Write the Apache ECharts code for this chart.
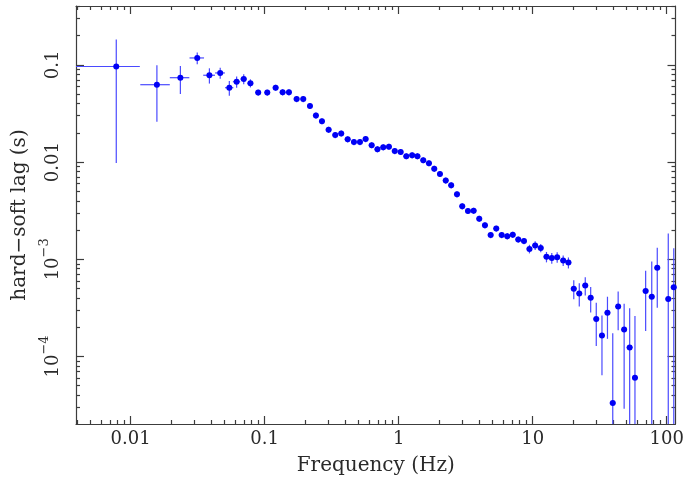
<!DOCTYPE html>
<html><head><meta charset="utf-8">
<script src="https://cdn.jsdelivr.net/npm/echarts@6.0.0/dist/echarts.min.js"></script>
<style>html,body{margin:0;padding:0;background:#fff}#c{width:683px;height:478px}</style>
</head><body><div id="c"></div>
<script>
// ---- data ----
const freq = [0.00781, 0.0157, 0.0235, 0.0314, 0.0387, 0.0466, 0.0545, 0.0618, 0.0698, 0.0783,
  0.0895, 0.1046, 0.1208, 0.1362, 0.1518, 0.1733, 0.1941, 0.2178, 0.2413, 0.2677,
  0.3003, 0.3363, 0.3728, 0.4165, 0.4638, 0.5143, 0.5671, 0.6289, 0.6945, 0.7672,
  0.8463, 0.9353, 1.035, 1.140, 1.261, 1.381, 1.526, 1.683, 1.844, 2.033,
  2.246, 2.465, 2.724, 2.982, 3.290, 3.628, 3.994, 4.406, 4.860, 5.350,
  5.872, 6.464, 7.104, 7.808, 8.613, 9.465, 10.44, 11.49, 12.68, 13.89,
  15.24, 16.90, 18.49, 20.27, 22.28, 24.69, 27.10, 29.83, 32.90, 36.16,
  39.60, 43.46, 48.16, 52.95, 58.00, 69.69, 77.40, 85.09, 102.8, 113.0];
const freqErr = [0.0039, 0.0039, 0.0039, 0.0039, 0.0039, 0.0039, 0.0039, 0.0039, 0.0039, 0.0039,
  0.0045, 0.0052, 0.006, 0.0068, 0.0076, 0.0087, 0.0097, 0.0109, 0.0121, 0.0134,
  0.015, 0.0168, 0.0186, 0.0208, 0.0232, 0.0257, 0.0284, 0.0314, 0.0347, 0.0384,
  0.0423, 0.0468, 0.0518, 0.057, 0.063, 0.069, 0.076, 0.084, 0.092, 0.102,
  0.112, 0.123, 0.136, 0.149, 0.165, 0.181, 0.2, 0.22, 0.243, 0.268,
  0.294, 0.323, 0.355, 0.39, 0.43, 0.473, 0.522, 0.575, 0.634, 0.695,
  0.762, 0.845, 0.925, 1.01, 1.11, 1.23, 1.36, 1.49, 1.65, 1.81,
  1.98, 2.17, 2.41, 2.65, 2.9, 3.48, 3.87, 4.25, 5.14, 5.65];
const lag = [0.0964, 0.0626, 0.0739, 0.118, 0.0783, 0.0827, 0.0583, 0.0672, 0.0716, 0.0649,
  0.0520, 0.0520, 0.0583, 0.0523, 0.0523, 0.0446, 0.0446, 0.0378, 0.0302, 0.0264,
  0.0215, 0.0190, 0.0197, 0.0172, 0.0161, 0.0161, 0.0173, 0.01495, 0.0136, 0.01423,
  0.01443, 0.01302, 0.01273, 0.01152, 0.01177, 0.01152, 0.01048, 0.00975, 0.00854, 0.00755,
  0.00647, 0.00578, 0.00467, 0.00352, 0.00315, 0.00316, 0.00261, 0.00224, 0.00178, 0.00207,
  0.00178, 0.00173, 0.00179, 0.00160, 0.00154, 0.00128, 0.00139, 0.00131, 0.00106, 0.00103,
  0.00105, 0.000972, 0.000925, 0.000499, 0.000446, 0.000539, 0.000401, 0.000243, 0.000164, 0.000282,
  3.32e-5, 0.000326, 0.000189, 0.000124, 6.05e-5, 0.000473, 0.000411, 0.000817, 0.000391, 0.000517];
const lagErr = [0.0866, 0.0365, 0.0237, 0.0166, 0.014, 0.0107, 0.0102, 0.0088, 0.0084, 0.0062,
  0.0037, 0.0037, 0.0042, 0.0038, 0.0038, 0.0032, 0.0032, 0.0027, 0.0022, 0.0019,
  0.0016, 0.0014, 0.0014, 0.0013, 0.0012, 0.0012, 0.0013, 0.0011, 0.001, 0.00103,
  0.00104, 0.00094, 0.00092, 0.00083, 0.00085, 0.00083, 0.00075, 0.0007, 0.00062, 0.00054,
  0.00047, 0.00042, 0.00034, 0.00026, 0.00023, 0.00023, 0.00019, 0.00016, 0.00013, 0.00015,
  0.00013, 0.00013, 0.00013, 0.00012, 0.00011, 0.00013, 0.00014, 0.00013, 0.00013, 0.00013,
  0.00013, 0.00012, 0.00012, 0.00011, 0.00012, 0.000115, 0.000118, 0.000115, 0.0001, 0.00013,
  0.00014, 0.00014, 0.00016, 0.00019, 0.0002, 0.00029, 0.00054, 0.0005, 0.00145, 0.00078];

const xTicks = [0.01, 0.1, 1, 10, 100];
const xTickLabels = ['0.01', '0.1', '1', '10', '100'];
const yTicks = [1e-4, 1e-3, 0.01, 0.1];
const yTickLabels = ['{b|10}{sup|\u22124}', '{b|10}{sup|\u22123}', '{b|0.01}', '{b|0.1}'];
const xRange = [0.00391, 116.4];
const yRange = [2.02e-5, 0.404];
const xName = 'Frequency (Hz)';
const yName = 'hard\u2212soft lag (s)';

// ---- styling ----
const axisColor = '#3c3c3c';
const textColor = '#2a2a2a';
const fontFam = 'DejaVu Serif';
const dotColor = '#0000f5';
const barColor = '#4a4aff';

function minorTicks(range) {
  const out = [];
  const d0 = Math.floor(Math.log10(range[0])), d1 = Math.ceil(Math.log10(range[1]));
  for (let d = d0; d <= d1; d++) {
    for (let m = 2; m <= 9; m++) {
      const v = m * Math.pow(10, d);
      if (v > range[0] && v < range[1]) out.push(v);
    }
  }
  return out;
}
function lookup(ticks, labels, v) {
  for (let i = 0; i < ticks.length; i++) {
    if (Math.abs(Math.log10(ticks[i]) - Math.log10(v)) < 1e-6) return labels[i];
  }
  return '';
}

function makeAxis(dim, pos, tickVals, tickLen, withLine, withLabel) {
  const isX = dim === 'x';
  const range = isX ? xRange : yRange;
  const ax = {
    type: 'log', logBase: 10, position: pos, min: range[0], max: range[1], gridIndex: 0,
    axisLine: {show: withLine, onZero: false, lineStyle: {color: axisColor, width: 1.2}},
    axisTick: {show: true, inside: true, length: tickLen, customValues: tickVals,
      lineStyle: {color: axisColor, width: 1.2}},
    minorTick: {show: false},
    splitLine: {show: false},
    axisLabel: {show: false}
  };
  if (withLabel) {
    if (isX) {
      ax.axisLabel = {show: true, customValues: xTicks, margin: 6,
        formatter: v => lookup(xTicks, xTickLabels, v),
        fontFamily: fontFam, fontSize: 18, color: textColor};
      ax.name = xName;
      ax.nameLocation = 'middle';
      ax.nameGap = 32;
      ax.nameTextStyle = {fontFamily: fontFam, fontSize: 20, color: textColor};
    } else {
      ax.axisLabel = {show: true, customValues: yTicks, margin: 14, rotate: 90,
        formatter: v => lookup(yTicks, yTickLabels, v),
        fontFamily: fontFam, fontSize: 18, color: textColor,
        rich: {
          b: {fontFamily: fontFam, fontSize: 18, color: textColor, verticalAlign: 'bottom', lineHeight: 24},
          sup: {fontFamily: fontFam, fontSize: 13, color: textColor, verticalAlign: 'top', lineHeight: 24}
        }};
      ax.name = yName;
      ax.nameLocation = 'middle';
      ax.nameGap = 46;
      ax.nameTextStyle = {fontFamily: fontFam, fontSize: 20, color: textColor};
    }
  }
  return ax;
}

const xMinor = minorTicks(xRange), yMinor = minorTicks(yRange);

const points = freq.map((f, i) => [f, lag[i]]);
const bars = freq.map((f, i) => [
  f, lag[i],
  Math.max(f - freqErr[i], xRange[0]), Math.min(f + freqErr[i], xRange[1]),
  Math.max(lag[i] - lagErr[i], yRange[0]), Math.min(lag[i] + lagErr[i], yRange[1])
]);

const chart = echarts.init(document.getElementById('c'), null, {renderer: 'canvas'});
chart.setOption({
  animation: false,
  backgroundColor: '#ffffff',
  grid: {left: 76, right: 7.5, top: 6, bottom: 54, outerBoundsMode: 'none', containLabel: false},
  xAxis: [
    makeAxis('x', 'bottom', xTicks, 8, true, true),
    makeAxis('x', 'bottom', xMinor, 4, false, false),
    makeAxis('x', 'top', xTicks, 8, true, false),
    makeAxis('x', 'top', xMinor, 4, false, false)
  ],
  yAxis: [
    makeAxis('y', 'left', yTicks, 8, true, true),
    makeAxis('y', 'left', yMinor, 4, false, false),
    makeAxis('y', 'right', yTicks, 8, true, false),
    makeAxis('y', 'right', yMinor, 4, false, false)
  ],
  series: [
    {
      type: 'custom', xAxisIndex: 0, yAxisIndex: 0, clip: true,
      data: bars,
      encode: {x: 0, y: 1},
      renderItem: (params, api) => {
        const f = api.value(0), v = api.value(1);
        const pL = api.coord([api.value(2), v]), pR = api.coord([api.value(3), v]);
        const pB = api.coord([f, api.value(4)]), pT = api.coord([f, api.value(5)]);
        const style = {stroke: barColor, lineWidth: 1.2, fill: null};
        return {type: 'group', children: [
          {type: 'line', shape: {x1: pL[0], y1: pL[1], x2: pR[0], y2: pR[1]}, style: style},
          {type: 'line', shape: {x1: pB[0], y1: pB[1], x2: pT[0], y2: pT[1]}, style: style}
        ]};
      }
    },
    {
      type: 'scatter', xAxisIndex: 0, yAxisIndex: 0,
      data: points, symbol: 'circle', symbolSize: 6,
      itemStyle: {color: dotColor, opacity: 1}
    }
  ]
});
</script>
</body></html>
